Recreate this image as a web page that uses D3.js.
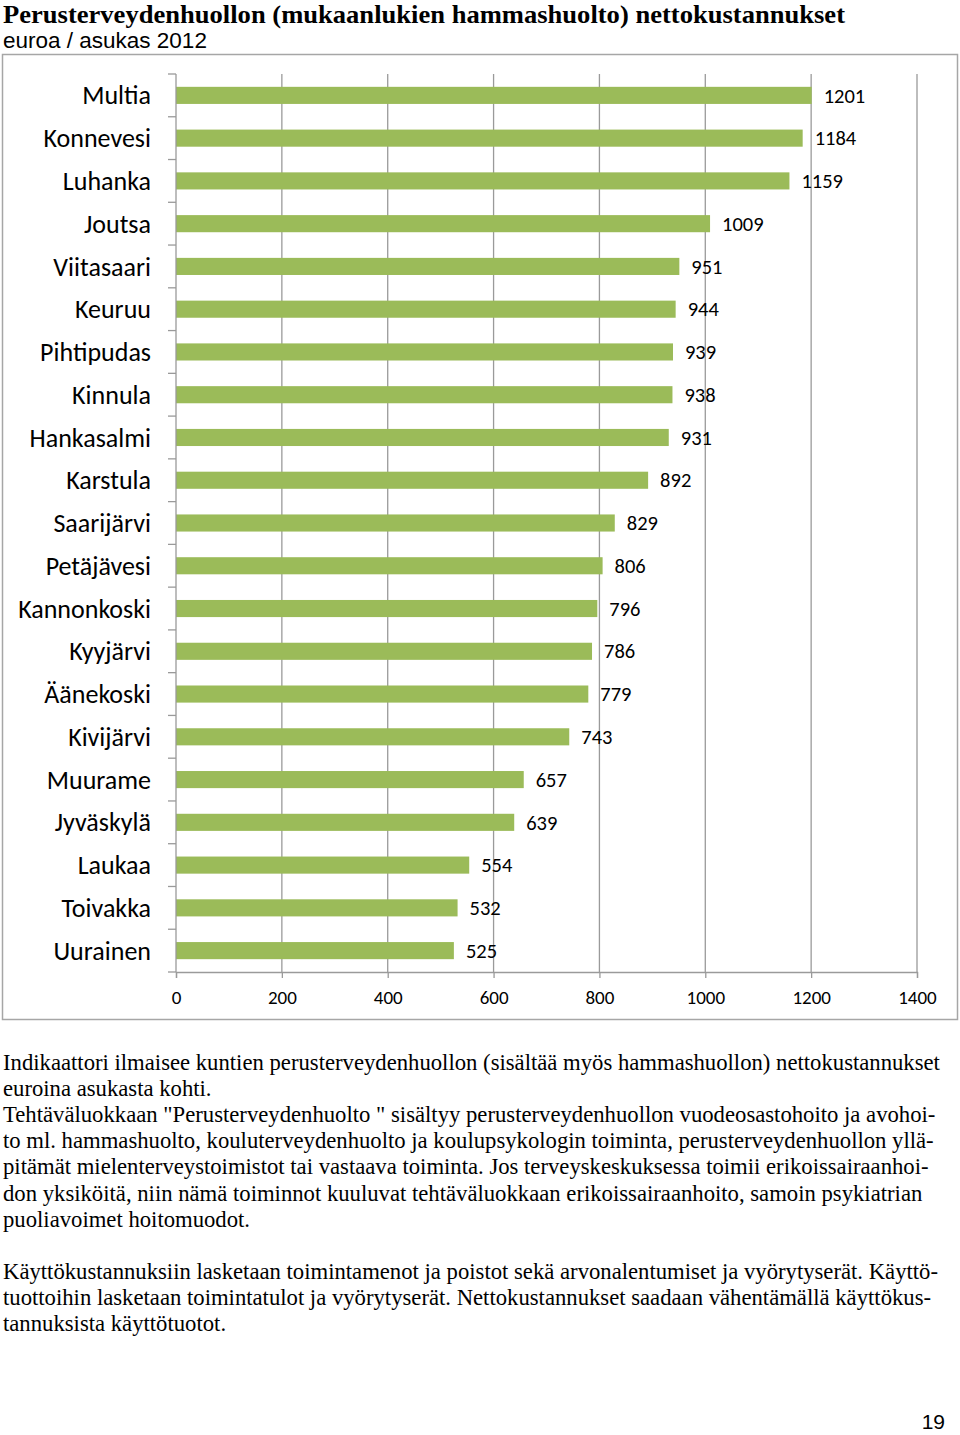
<!DOCTYPE html>
<html><head><meta charset="utf-8">
<script src="https://cdn.jsdelivr.net/npm/d3@7"></script>
<style>body{margin:0;background:#fff}svg{display:block}</style>
</head><body>
<script>
const categories = ["Multia","Konnevesi","Luhanka","Joutsa","Viitasaari","Keuruu","Pihtipudas","Kinnula","Hankasalmi","Karstula","Saarijärvi","Petäjävesi","Kannonkoski","Kyyjärvi","Äänekoski","Kivijärvi","Muurame","Jyväskylä","Laukaa","Toivakka","Uurainen"];
const values = [1201,1184,1159,1009,951,944,939,938,931,892,829,806,796,786,779,743,657,639,554,532,525];
const xTicks = [0,200,400,600,800,1000,1200,1400];
const title = "Perusterveydenhuollon (mukaanlukien hammashuolto) nettokustannukset";
const subtitle = "euroa / asukas 2012";
const para1 = [
 "Indikaattori ilmaisee kuntien perusterveydenhuollon (sisältää myös hammashuollon) nettokustannukset",
 "euroina asukasta kohti.",
 "Tehtäväluokkaan \"Perusterveydenhuolto \" sisältyy perusterveydenhuollon vuodeosastohoito ja avohoi-",
 "to ml. hammashuolto, kouluterveydenhuolto ja koulupsykologin toiminta, perusterveydenhuollon yllä-",
 "pitämät mielenterveystoimistot tai vastaava toiminta. Jos terveyskeskuksessa toimii erikoissairaanhoi-",
 "don yksiköitä, niin nämä toiminnot kuuluvat tehtäväluokkaan erikoissairaanhoito, samoin psykiatrian",
 "puoliavoimet hoitomuodot."
];
const para2 = [
 "Käyttökustannuksiin lasketaan toimintamenot ja poistot sekä arvonalentumiset ja vyörytyserät. Käyttö-",
 "tuottoihin lasketaan toimintatulot ja vyörytyserät. Nettokustannukset saadaan vähentämällä käyttökus-",
 "tannuksista käyttötuotot."
];
const pageNo = "19";

const W = 960, H = 1435;
const svg = d3.select("body").append("svg").attr("width", W).attr("height", H);

// title
svg.append("text").attr("x", 3).attr("y", 22.5)
  .attr("font-family", "'Liberation Serif','Times New Roman',serif").attr("font-weight", "bold")
  .attr("font-size", 25.8).attr("textLength", 842).attr("lengthAdjust", "spacingAndGlyphs")
  .attr("fill", "#000").text(title);
svg.append("text").attr("x", 3).attr("y", 48)
  .attr("font-family", "'Liberation Sans',Arial,sans-serif")
  .attr("font-size", 22.5).attr("fill", "#000").text(subtitle);

// chart border
svg.append("rect").attr("x", 2.5).attr("y", 54.5).attr("width", 955).attr("height", 965)
  .attr("fill", "none").attr("stroke", "#a6a6a6").attr("stroke-width", 1.5);

const x = d3.scaleLinear().domain([0, 1400]).range([176, 917]);
const y = d3.scaleBand().domain(categories).range([74, 972]).paddingInner(0.6).paddingOuter(0.3);
const gridColor = "#9a9a9a";
const sans = "Carlito,Lato,'Open Sans',sans-serif";

// gridlines
svg.append("g").selectAll("line").data(xTicks.slice(1)).join("line")
  .attr("x1", d => x(d)).attr("x2", d => x(d)).attr("y1", 74).attr("y2", 972)
  .attr("stroke", gridColor).attr("stroke-width", 1.3);

// bars
svg.append("g").selectAll("rect").data(values).join("rect")
  .attr("x", x(0)).attr("y", (d, i) => y(categories[i]))
  .attr("width", d => x(d) - x(0)).attr("height", y.bandwidth())
  .attr("fill", "#9bbb59");

// bottom axis
const xAxis = svg.append("g").attr("transform", "translate(0,972)")
  .call(d3.axisBottom(x).tickValues(xTicks).tickSize(6).tickPadding(13).tickFormat(d3.format("d")));
xAxis.select(".domain").attr("stroke", gridColor).attr("stroke-width", 1.3);
xAxis.selectAll(".tick line").attr("stroke", gridColor).attr("stroke-width", 1.3);
xAxis.selectAll("text").attr("font-family", sans).attr("font-size", 19).attr("fill", "#000");

// left axis with boundary ticks
const yLine = d3.scaleLinear().domain([0, categories.length]).range([74, 972]);
const leftG = svg.append("g");
leftG.append("line").attr("x1", 176).attr("x2", 176).attr("y1", 74).attr("y2", 972)
  .attr("stroke", gridColor).attr("stroke-width", 1.3);
leftG.selectAll("line.t").data(d3.range(categories.length + 1)).join("line").attr("class", "t")
  .attr("x1", 168).attr("x2", 176).attr("y1", d => yLine(d)).attr("y2", d => yLine(d))
  .attr("stroke", gridColor).attr("stroke-width", 1.3);

// category labels
svg.append("g").selectAll("text").data(categories).join("text")
  .attr("x", 151).attr("y", d => y(d) + y.bandwidth() / 2).attr("dy", "0.35em")
  .attr("text-anchor", "end").attr("font-family", sans)
  .attr("font-size", 26).attr("fill", "#000").text(d => d);

// value labels
svg.append("g").selectAll("text").data(values).join("text")
  .attr("x", d => x(d) + 12).attr("y", (d, i) => y(categories[i]) + y.bandwidth() / 2).attr("dy", "0.35em")
  .attr("font-family", sans)
  .attr("font-size", 20.5).attr("fill", "#000").text(d => d);

// body text
const serif = "'Liberation Serif','Times New Roman',serif";
svg.append("g").selectAll("text").data(para1).join("text")
  .attr("x", 3).attr("y", (d, i) => 1070 + i * 26.1)
  .attr("font-family", serif).attr("font-size", 22.7).attr("fill", "#000").text(d => d);
svg.append("g").selectAll("text").data(para2).join("text")
  .attr("x", 3).attr("y", (d, i) => 1279 + i * 26.1)
  .attr("font-family", serif).attr("font-size", 22.7).attr("fill", "#000").text(d => d);

svg.append("text").attr("x", 945).attr("y", 1429).attr("text-anchor", "end")
  .attr("font-family", "'Liberation Sans',Arial,sans-serif").attr("font-size", 21).attr("fill", "#000").text(pageNo);
</script>
</body></html>
